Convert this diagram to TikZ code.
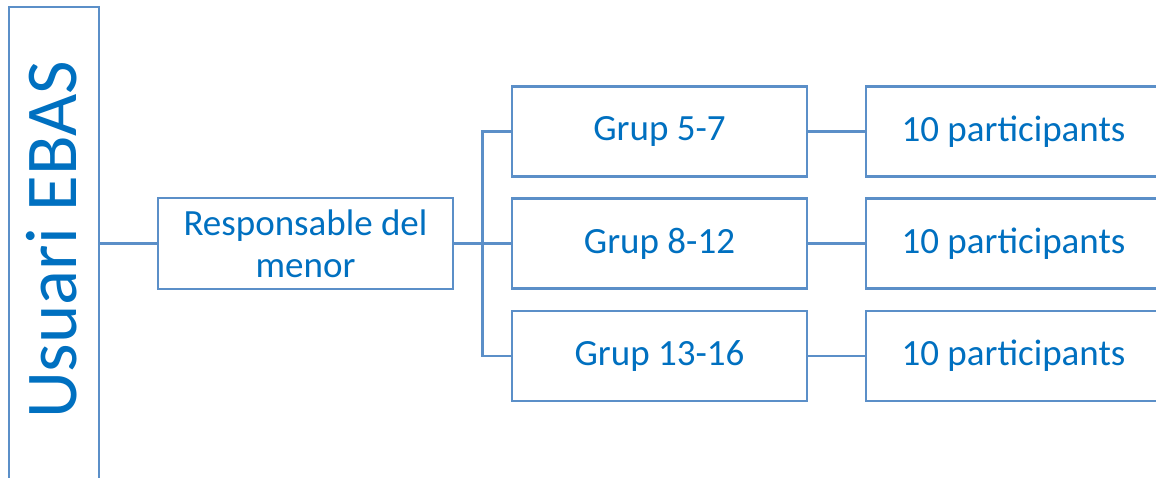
\documentclass[tikz,border=0pt]{standalone}
\usepackage{fontspec}
\setmainfont{Carlito}
\definecolor{boxline}{HTML}{5B8FC8}
\definecolor{txtblue}{HTML}{0070C0}
\tikzset{
  box/.style={draw=boxline, line width=2.5pt, fill=white, minimum width=295pt, minimum height=90pt,
    inner sep=0pt, align=center, text=txtblue, font=\fontsize{37}{42}\selectfont},
  conn/.style={draw=boxline, line width=2.5pt}
}
\begin{document}
\begin{tikzpicture}[x=1pt,y=1pt]
\useasboundingbox (0,0) rectangle (1156,-478);
\fill[white] (0,0) rectangle (1156,-478);
% left tall box
\node[draw=boxline, line width=2.5pt, minimum width=90pt, minimum height=500pt, inner sep=0pt] (usr) at (54,-257) {};
\node[rotate=90, text=txtblue, font=\fontsize{73}{80}\selectfont, inner sep=0pt] (usrtxt) at (52,-240) {Usuari EBAS};
% responsable
\node[box, minimum height=91pt] (resp) at (305.5,-243.5) {Responsable del\\menor};
% groups
\node[box] (g1) at (659.5,-131.5) {Grup 5-7};
\node[box] (g2) at (659.5,-243.5) {Grup 8-12};
\node[box] (g3) at (659.5,-356) {Grup 13-16};
% participants
\node[box] (p1) at (1013.5,-131.5) {10 participants};
\node[box] (p2) at (1013.5,-243.5) {10 participants};
\node[box] (p3) at (1013.5,-356) {10 participants};
% connectors
\coordinate (bus) at (482.5,-243.5);
\draw[conn] (usr.east |- resp.west) -- (resp.west);
\draw[conn] (resp.east) -- (g2.west);
\draw[conn] (g1.west) -- (bus |- g1.west) -- (bus |- g3.west) -- (g3.west);
\draw[conn] (g1.east) -- (p1.west);
\draw[conn] (g2.east) -- (p2.west);
\draw[conn] (g3.east) -- (p3.west);
\end{tikzpicture}
\end{document}
